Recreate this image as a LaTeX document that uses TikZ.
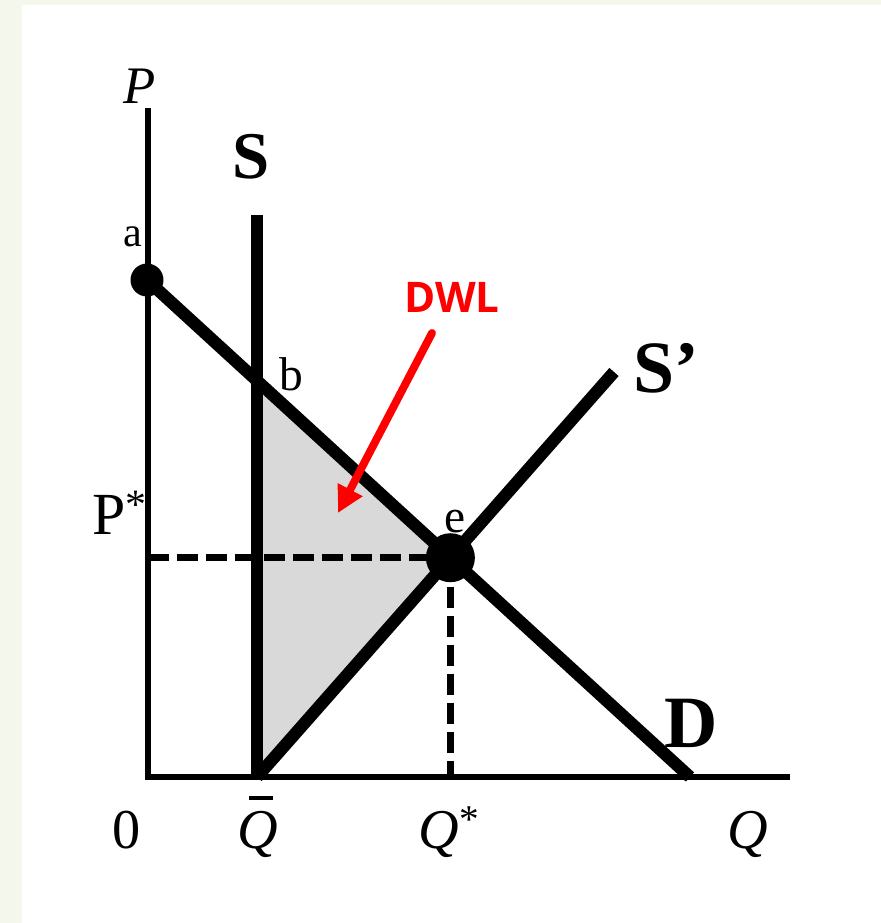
\documentclass[tikz,border=0pt]{standalone}
\usepackage{fontspec}
\setmainfont{Liberation Serif}
\newfontfamily\dwlfont{Open Sans}
\usepackage{xcolor}
\usepackage{tikz}
\usetikzlibrary{arrows.meta}

\definecolor{pagegreen}{RGB}{244,247,236}
\definecolor{dwlred}{RGB}{255,0,0}

\begin{document}
\begin{tikzpicture}[
      x=0.02cm, y=-0.02cm,
      axis/.style={line width=3.6pt},
      curve/.style={line width=7pt},
      guide/.style={line width=4pt, dash pattern=on 12pt off 4.5pt},
      dot/.style={circle, fill=black, inner sep=0pt},
      lab/.style={anchor=base, inner sep=0pt},
      arrow/.style={
        -{Triangle[length=15pt,width=15pt]},
        line width=4.5pt, line cap=round, dwlred
      }
    ]
    \useasboundingbox (0,0) rectangle (881,923);
    \fill[pagegreen] (0,0) rectangle (881,923);
    \fill[white] (22,5) rectangle (881,923);

    % axes and curves
    \coordinate (o) at (148,777);
    \coordinate (ptop) at (148,108);
    \coordinate (qend) at (790,777);
    \coordinate (dtop) at (147,280);
    \coordinate (dend) at (690,777);
    \coordinate (stop) at (257,215);
    \coordinate (sbot) at (257,777);
    \coordinate (sptop) at (614,372);
    \coordinate (b) at (intersection of dtop--dend and stop--sbot);
    \coordinate (e) at (intersection of dtop--dend and sbot--sptop);

    \fill[black!15] (b) -- (e) -- (sbot) -- cycle;

    \draw[guide] (o |- e) -- (e);
    \draw[guide] (e) -- (e |- o);

    \draw[axis] (ptop) -- (o) -- (qend);
    \draw[curve] (dtop) -- (dend);
    \draw[curve, line width=6.5pt] (stop) -- (sbot);
    \draw[curve] (sbot) -- (sptop);

    \node[dot, minimum size=0.66cm] (a) at (dtop) {};
    \node[dot, minimum size=0.98cm] (eq) at (e) {};

    % labels
    \node[lab, font=\fontsize{30}{30}\selectfont\itshape] (plab) at (140,103) {P};
    \node[lab, font=\fontsize{38}{38}\selectfont\bfseries] (slab) at (251,178) {S};
    \node[lab, font=\fontsize{42}{42}\selectfont\bfseries] (splab) at (666,392) {S'};
    \node[lab, font=\fontsize{42}{42}\selectfont\bfseries] (dlab) at (691,747) {D};
    \node[lab, font=\fontsize{24}{24}\selectfont] (alab) at (133,246) {a};
    \node[lab, font=\fontsize{27}{27}\selectfont] (blab) at (291,390) {b};
    \node[lab, font=\fontsize{27}{27}\selectfont] (elab) at (455,532) {e};
    \node[lab, font=\fontsize{34}{34}\selectfont] (pstar) at (120,534) {P\textsuperscript{*}};
    \node[lab, font=\fontsize{32}{32}\selectfont] (zero) at (127,848) {0};
    \node[lab, font=\fontsize{32}{32}\selectfont\itshape] (qbar) at (258,848)
      {\rlap{\hspace{0.2em}\rule[0.86em]{0.42em}{0.07em}}Q};
    \node[lab, font=\fontsize{32}{32}\selectfont] (qstar) at (449,848) {\textit{Q}\textsuperscript{*}};
    \node[lab, font=\fontsize{32}{32}\selectfont\itshape] (qlab) at (748,848) {Q};

    \node[lab, font=\fontsize{24}{24}\selectfont\dwlfont\bfseries, text=dwlred] (dwl) at (452,312) {DWL};
    \coordinate (dwltail) at (432,333);
    \coordinate (dwltip) at (338,513);
    \draw[arrow] (dwltail) -- (dwltip);

    \end{tikzpicture}
\end{document}
